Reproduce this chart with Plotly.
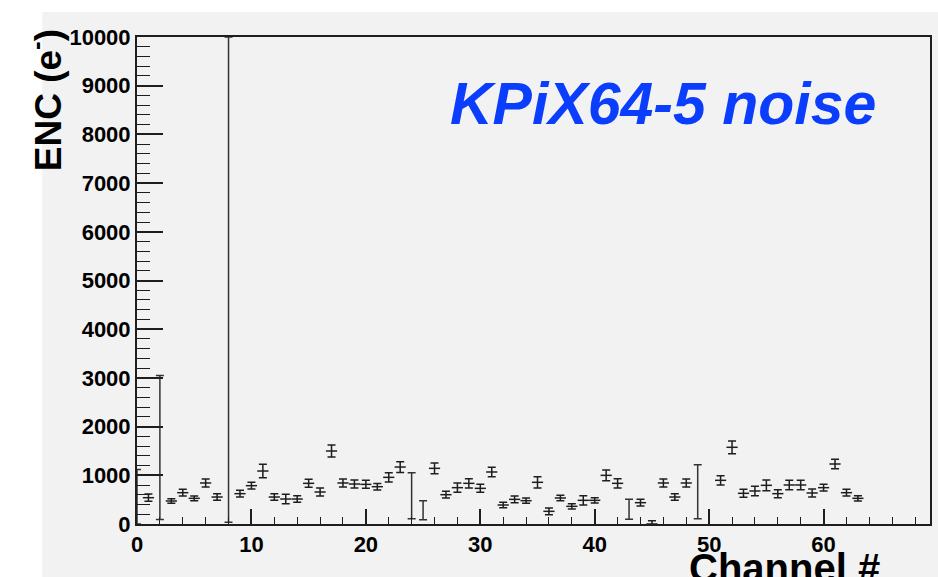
import plotly.graph_objects as go

# ---- data ----
channels = list(range(64))
enc = [560, 540, 1572, 472, 643, 527, 842, 554, 5017, 623,
       787, 1088, 554, 513, 513, 835, 657, 1499, 842, 821,
       814, 766, 958, 1170, 582, 284, 1143, 602, 746, 835,
       732, 1068, 390, 506, 479, 856, 260, 534, 363, 486,
       486, 999, 835, 301, 438, 0, 842, 554, 842, 664,
       None, 897, 1575, 630, 678, 794, 623, 801, 801, 637,
       746, 1232, 643, 527]
enc_err = [560, 75, 1478, 48, 68, 48, 82, 68, 4983, 68,
           68, 137, 68, 96, 68, 82, 82, 123, 82, 82,
           82, 68, 96, 110, 472, 195, 110, 68, 96, 96,
           82, 96, 55, 68, 55, 116, 68, 55, 55, 96,
           55, 110, 96, 205, 68, 68, 82, 68, 82, 554,
           None, 96, 130, 82, 96, 110, 82, 96, 96, 82,
           68, 96, 68, 55]

x_ticks = [0, 10, 20, 30, 40, 50, 60]
y_ticks = [0, 1000, 2000, 3000, 4000, 5000, 6000, 7000, 8000, 9000, 10000]

title_text = "KPiX64-5 noise"
x_title = "Channel #"
y_title = "ENC (e<sup>-</sup>)"

FONT = "Liberation Sans"
INK = "#1e1e1e"

# split points: small error bars show a centre tick, large ones do not
small_x, small_y, small_e = [], [], []
big_x, big_y, big_e = [], [], []
for c, v, e in zip(channels, enc, enc_err):
    if v is None:
        continue
    if e < 150:
        small_x.append(c); small_y.append(v); small_e.append(e)
    else:
        big_x.append(c); big_y.append(v); big_e.append(e)

fig = go.Figure()
fig.add_trace(go.Scatter(
    x=small_x, y=small_y, mode="markers",
    marker=dict(symbol="line-ew", size=8, color=INK,
                line=dict(color=INK, width=1.5)),
    error_y=dict(type="data", array=small_e, visible=True,
                 color=INK, thickness=1.5, width=4),
    cliponaxis=False, showlegend=False, hoverinfo="x+y"))
fig.add_trace(go.Scatter(
    x=big_x, y=big_y, mode="markers",
    marker=dict(symbol="line-ew", size=8, color="rgba(0,0,0,0)",
                line=dict(color="rgba(0,0,0,0)", width=0)),
    error_y=dict(type="data", array=big_e, visible=True,
                 color="#333333", thickness=1.5, width=4),
    cliponaxis=False, showlegend=False, hoverinfo="x+y"))

L, R, T, B = 137, 6, 37, 53
W, H = 938, 577
pw, ph = W - L - R, H - T - B

def px_x(p):
    return (p - L) / pw

def px_y(p):
    return (H - B - p) / ph

# grey canvas (ROOT pad) around the frame
fig.add_shape(type="rect", xref="paper", yref="paper",
              x0=px_x(42), x1=px_x(W + 2), y0=px_y(H + 2), y1=px_y(12),
              fillcolor="#f2f2f2", line=dict(width=0), layer="below")

fig.add_annotation(text="<b><i>" + title_text + "</i></b>",
                   xref="paper", yref="paper", x=px_x(449), y=px_y(104),
                   xanchor="left", yanchor="middle", showarrow=False,
                   font=dict(family=FONT, size=59, color="#0b3dfd"))
fig.add_annotation(text="<b>" + x_title + "</b>",
                   xref="paper", yref="paper", x=px_x(884), y=px_y(568),
                   xanchor="right", yanchor="middle", showarrow=False,
                   font=dict(family=FONT, size=40, color="black"))
fig.add_annotation(text="<b>" + y_title + "</b>", textangle=-90,
                   xref="paper", yref="paper", x=px_x(45), y=px_y(27),
                   xanchor="center", yanchor="top", showarrow=False,
                   font=dict(family=FONT, size=37, color="black"))

axis_common = dict(showline=True, linecolor=INK, linewidth=2, mirror=True,
                   showgrid=False, zeroline=False, ticks="inside",
                   tickcolor=INK, tickwidth=1.5,
                   tickfont=dict(family=FONT, size=22, color="black", weight="bold"))

fig.update_xaxes(range=[0, 69.3], tickmode="array", tickvals=x_ticks,
                 ticktext=[str(t) for t in x_ticks], ticklen=15,
                 minor=dict(dtick=2, tick0=0, ticks="inside", ticklen=7,
                            tickwidth=1.3, tickcolor=INK, showgrid=False),
                 **axis_common)
fig.update_yaxes(range=[0, 10000], tickmode="array", tickvals=y_ticks,
                 ticktext=[str(t) for t in y_ticks], ticklen=26,
                 minor=dict(dtick=200, tick0=0, ticks="inside", ticklen=13,
                            tickwidth=1.3, tickcolor=INK, showgrid=False),
                 **axis_common)

fig.update_layout(width=W, height=H, autosize=False,
                  margin=dict(l=L, r=R, t=T, b=B, pad=0),
                  paper_bgcolor="white", plot_bgcolor="#f2f2f2",
                  font=dict(family=FONT))

fig.write_html("out.html")
